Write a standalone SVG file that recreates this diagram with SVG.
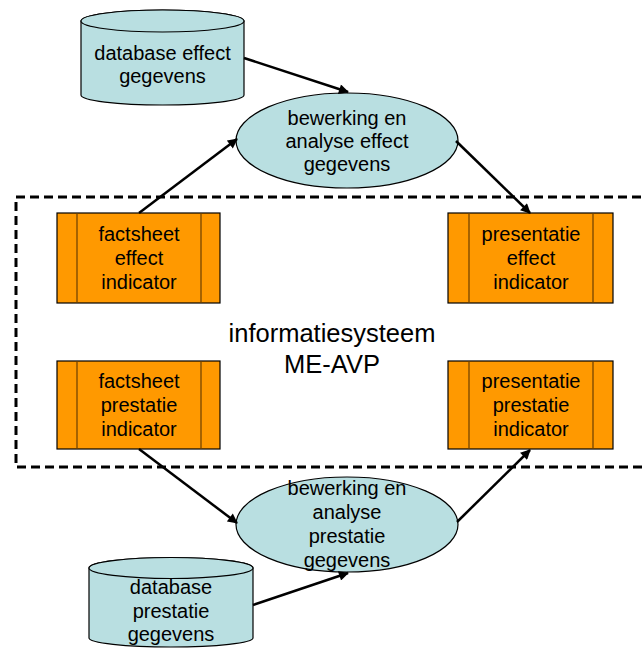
<svg xmlns="http://www.w3.org/2000/svg" width="643" height="650" viewBox="0 0 643 650">
<defs>
<style>
text{font-family:"Liberation Sans",Arial,sans-serif;fill:#000;text-anchor:middle}
.t{font-size:20px}
.big{font-size:25.5px}
.db{fill:#B9DFE1;stroke:#000;stroke-width:1.2}
.proc{fill:#B9DFE1;stroke:#000;stroke-width:1.2}
.box{fill:#FF9900;stroke:#000;stroke-width:1.2}
.inner{stroke:#6b4000;stroke-width:1.2;fill:none}
.arr{stroke:#000;stroke-width:2.5;fill:none;marker-end:url(#ah)}
.dash{fill:none;stroke:#000;stroke-width:3;stroke-dasharray:9 5}
</style>
<marker id="ah" viewBox="0 0 10 10" refX="9" refY="5" markerWidth="4.4" markerHeight="4" orient="auto" markerUnits="strokeWidth">
<path d="M0,0 L10,5 L0,10 z" fill="#000"/>
</marker>
</defs>
<rect width="643" height="650" fill="#fff"/>

<rect id="boundary" class="dash" x="16" y="197" width="640" height="270"/>

<g id="db-effect">
<path class="db" d="M81,21 L81,95 A81.5,10 0 0 0 244,95 L244,21 A81.5,11 0 0 0 81,21 Z"/>
<ellipse class="db" cx="162.5" cy="21" rx="81.5" ry="11"/>
<text class="t" x="162.5" y="60">database effect</text>
<text class="t" x="162.5" y="83">gegevens</text>
</g>

<g id="proc-effect">
<ellipse class="proc" cx="347" cy="140.5" rx="111" ry="47.5"/>
<text class="t" x="347" y="125">bewerking en</text>
<text class="t" x="347" y="148">analyse effect</text>
<text class="t" x="347" y="171">gegevens</text>
</g>

<g id="fs-effect">
<rect class="box" x="57" y="213" width="163" height="90"/>
<path class="inner" d="M77,213 V303 M201,213 V303"/>
<text class="t" x="139" y="241">factsheet</text>
<text class="t" x="139" y="265">effect</text>
<text class="t" x="139" y="289">indicator</text>
</g>

<g id="pres-effect">
<rect class="box" x="448" y="213" width="165" height="90"/>
<path class="inner" d="M469,213 V303 M593,213 V303"/>
<text class="t" x="531" y="241">presentatie</text>
<text class="t" x="531" y="265">effect</text>
<text class="t" x="531" y="289">indicator</text>
</g>

<g id="system-label">
<text class="big" x="332" y="342">informatiesysteem</text>
<text class="big" x="332" y="373">ME-AVP</text>
</g>

<g id="fs-prestatie">
<rect class="box" x="57" y="361" width="163" height="88"/>
<path class="inner" d="M77,361 V449 M201,361 V449"/>
<text class="t" x="139" y="388">factsheet</text>
<text class="t" x="139" y="412">prestatie</text>
<text class="t" x="139" y="436">indicator</text>
</g>

<g id="pres-prestatie">
<rect class="box" x="448" y="361" width="165" height="88"/>
<path class="inner" d="M469,361 V449 M593,361 V449"/>
<text class="t" x="531" y="388">presentatie</text>
<text class="t" x="531" y="412">prestatie</text>
<text class="t" x="531" y="436">indicator</text>
</g>

<g id="proc-prestatie">
<ellipse class="proc" cx="347" cy="524.5" rx="111" ry="47.5"/>
<text class="t" x="347" y="495">bewerking en</text>
<text class="t" x="347" y="519">analyse</text>
<text class="t" x="347" y="543">prestatie</text>
<text class="t" x="347" y="567">gegevens</text>
</g>

<g id="db-prestatie">
<path class="db" d="M89,568 L89,638 A82,9 0 0 0 253,638 L253,568 A82,10.5 0 0 0 89,568 Z"/>
<ellipse class="db" cx="171" cy="568" rx="82" ry="10.5"/>
<text class="t" x="171" y="594">database</text>
<text class="t" x="171" y="618">prestatie</text>
<text class="t" x="171" y="641">gegevens</text>
</g>

<g id="connectors">
<line class="arr" x1="244" y1="58" x2="348" y2="92"/>
<line class="arr" x1="139" y1="213" x2="237" y2="139"/>
<line class="arr" x1="456" y1="141" x2="530" y2="213"/>
<line class="arr" x1="139" y1="449" x2="237" y2="523"/>
<line class="arr" x1="457" y1="522" x2="530" y2="450"/>
<line class="arr" x1="253" y1="605" x2="348" y2="573"/>
</g>
</svg>
